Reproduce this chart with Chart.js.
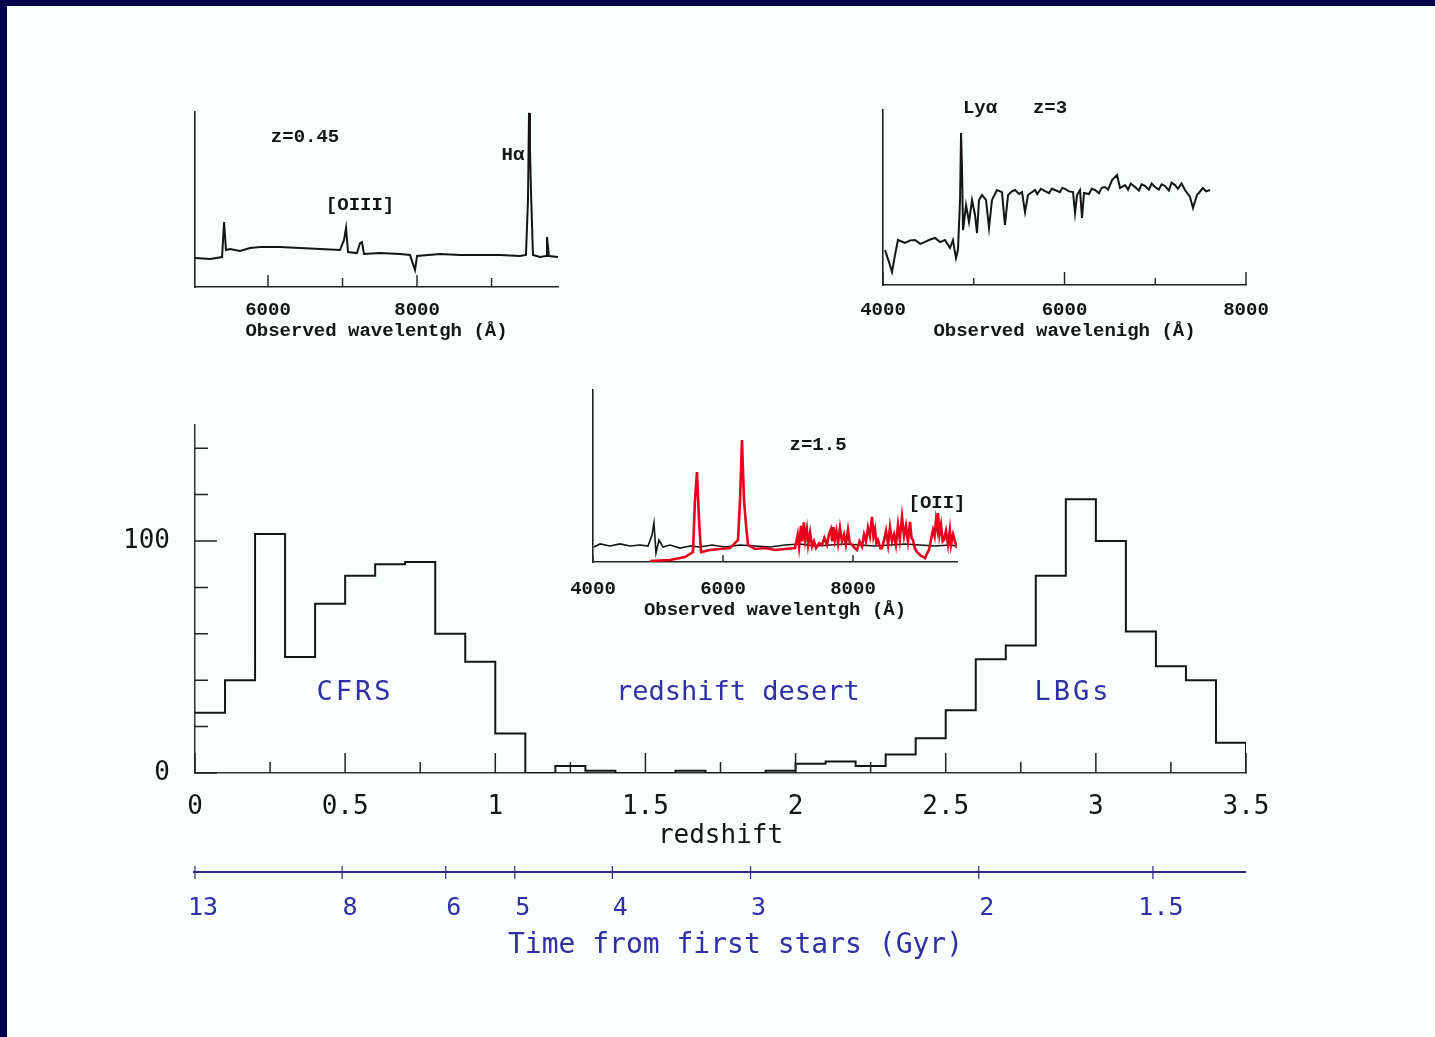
<!DOCTYPE html>
<html>
<head>
<meta charset="utf-8">
<script src="https://cdn.jsdelivr.net/npm/chart.js@4.4.1/dist/chart.umd.min.js"></script>
<style>
  html, body { margin: 0; padding: 0; background: #f8fffd; }
  #page { position: relative; width: 1435px; height: 1037px; overflow: hidden; background: #f8fffd; }
  #page canvas { position: absolute; }
  .frame { position: absolute; background: #00004e; z-index: 5; }
</style>
</head>
<body>
<div id="page">
  <canvas id="histogram" width="1435" height="1037" style="left:0;top:0"></canvas>
  <canvas id="specLow" width="450" height="262" style="left:150px;top:88px"></canvas>
  <canvas id="specHigh" width="440" height="265" style="left:840px;top:85px"></canvas>
  <canvas id="specMid" width="440" height="253" style="left:550px;top:372px"></canvas>
  <div class="frame" style="left:0;top:0;width:1435px;height:6px"></div>
  <div class="frame" style="left:0;top:0;width:7px;height:1037px"></div>
</div>
<script>
// ---- Redshift histogram (bins of width 0.1) ----
const binStart = [0.0, 0.1, 0.2, 0.3, 0.4, 0.5, 0.6, 0.7, 0.8, 0.9,
                  1.0, 1.1, 1.2, 1.3, 1.4, 1.5, 1.6, 1.7, 1.8, 1.9,
                  2.0, 2.1, 2.2, 2.3, 2.4, 2.5, 2.6, 2.7, 2.8, 2.9,
                  3.0, 3.1, 3.2, 3.3, 3.4];
const binEnd = 3.5;
const galaxyCounts = [26, 40, 103, 50, 73, 85, 90, 91, 60, 48,
                      17, 0, 3, 1, 0, 0, 1, 0, 0, 1,
                      4, 5, 3, 8, 15, 27, 49, 55, 85, 118,
                      100, 61, 46, 40, 13];

const redshiftTicks  = [0, 0.25, 0.5, 0.75, 1, 1.25, 1.5, 1.75, 2, 2.25, 2.5, 2.75, 3, 3.25, 3.5];
const redshiftLabels = ['0', '', '0.5', '', '1', '', '1.5', '', '2', '', '2.5', '', '3', '', '3.5'];
const countTicks  = [0, 20, 40, 60, 80, 100, 120, 140];
const countLabels = ['0', '', '', '', '', '100', '', ''];

// Age of the universe scale under the redshift axis
const cosmicAgeGyr = [13, 8, 6, 5, 4, 3, 2, 1.5];
const ageRedshift  = [0, 0.49, 0.835, 1.065, 1.39, 1.85, 2.61, 3.19];

// ---- Spectrum at z = 0.45 ----
const lowWave = [5020, 5222, 5383, 5410, 5436, 5490, 5624, 5758, 5893, 6161,
                 6429, 6698, 6966, 7020, 7047, 7074, 7194, 7235, 7261, 7288,
                 7503, 7771, 7906, 7946, 7973, 8000, 8308, 8577, 8845, 9113,
                 9382, 9462, 9489, 9503, 9516, 9529, 9556, 9650, 9731, 9744,
                 9771, 9892];
const lowFlux = [1.66, 1.60, 1.71, 3.71, 2.11, 2.17, 2.06, 2.23, 2.29, 2.29,
                 2.23, 2.17, 2.11, 2.69, 3.37, 2.00, 1.94, 2.51, 2.57, 1.89,
                 1.94, 1.89, 1.83, 1.31, 0.97, 1.77, 1.89, 1.83, 1.83, 1.83,
                 1.77, 1.83, 4.97, 9.95, 7.83, 5.54, 1.83, 1.71, 1.77, 2.86,
                 1.77, 1.71];
const lowTicks  = [6000, 7000, 8000, 9000];
const lowLabels = ['6000', '', '8000', ''];

// ---- Spectrum at z = 3 ----
const highWave = [4022, 4066, 4099, 4132, 4165, 4242, 4300, 4353, 4410, 4463,
                  4520, 4573, 4630, 4683, 4738, 4771, 4804, 4826, 4849, 4860,
                  4871, 4882, 4915, 4948, 4981, 5014, 5036, 5058, 5091, 5135,
                  5168, 5201, 5256, 5311, 5344, 5378, 5420, 5455, 5500, 5532,
                  5565, 5598, 5640, 5675, 5700, 5740, 5785, 5830, 5860, 5895,
                  5950, 5975, 6006, 6050, 6094, 6116, 6138, 6171, 6193, 6215,
                  6270, 6300, 6336, 6380, 6410, 6446, 6480, 6524, 6579, 6612,
                  6667, 6700, 6730, 6777, 6820, 6850, 6887, 6930, 6960, 6997,
                  7040, 7070, 7108, 7150, 7180, 7218, 7250, 7290, 7328, 7383,
                  7416, 7460, 7526, 7560, 7604];
const highFlux = [2.00, 1.31, 0.74, 1.71, 2.57, 2.40, 2.55, 2.57, 2.35, 2.46,
                  2.60, 2.69, 2.45, 2.57, 2.11, 2.57, 1.54, 2.00, 4.86, 8.69,
                  6.57, 3.14, 4.57, 3.60, 4.86, 4.00, 2.97, 4.86, 5.14, 4.86,
                  3.26, 4.86, 5.43, 5.31, 3.43, 5.14, 5.35, 5.43, 5.20, 5.31,
                  4.17, 5.14, 5.30, 5.43, 5.20, 5.50, 5.37, 5.25, 5.50, 5.43,
                  5.30, 5.55, 5.49, 5.35, 5.31, 4.11, 5.14, 5.43, 3.83, 5.26,
                  5.20, 5.50, 5.43, 5.25, 5.55, 5.60, 5.45, 6.00, 6.29, 5.54,
                  5.71, 5.45, 5.80, 5.60, 5.40, 5.75, 5.66, 5.45, 5.80, 5.60,
                  5.45, 5.75, 5.66, 5.40, 5.85, 5.71, 5.50, 5.80, 5.43, 5.03,
                  4.40, 5.14, 5.54, 5.35, 5.43];
const highTicks  = [4000, 5000, 6000, 7000, 8000];
const highLabels = ['4000', '', '6000', '', '8000'];

// ---- Spectrum at z = 1.5 (galaxy in black, sky residuals in red) ----
const midWave = [4015, 4108, 4262, 4415, 4569, 4723, 4846, 4908, 4938, 4969,
                 5015, 5077, 5185, 5338, 5492, 5646, 5831, 6031, 6262, 6492,
                 6723, 6954, 7185, 7415, 7646, 7877, 8108, 8338, 8569, 8800,
                 9031, 9262, 9492, 9600];
const midFlux = [0.87, 1.05, 0.93, 1.05, 0.93, 0.99, 0.93, 1.57, 2.27, 0.52,
                 1.28, 0.87, 0.99, 0.81, 0.93, 0.87, 0.99, 0.87, 0.99, 0.93,
                 0.87, 0.99, 1.05, 0.93, 0.99, 1.05, 0.99, 0.93, 0.99, 1.05,
                 0.99, 0.93, 0.99, 0.93];
const skyWave = [4877, 5185, 5415, 5538, 5569, 5600, 5631, 5662, 5800, 5954,
                 6108, 6231, 6262, 6292, 6323, 6354, 6385, 6492, 6646, 6800,
                 6954, 7108, 7150, 7170, 7200, 7220, 7245, 7265, 7290, 7310,
                 7340, 7370, 7400, 7431, 7480, 7523, 7560, 7600, 7630, 7660,
                 7680, 7700, 7720, 7745, 7770, 7800, 7830, 7862, 7890, 7923,
                 7950, 7985, 8030, 8062, 8100, 8138, 8170, 8200, 8230, 8260,
                 8292, 8315, 8338, 8360, 8385, 8420, 8446, 8480, 8508, 8540,
                 8569, 8600, 8631, 8660, 8692, 8720, 8754, 8785, 8815, 8845,
                 8877, 8900, 8923, 8950, 8985, 9020, 9046, 9080, 9108, 9140,
                 9169, 9200, 9231, 9255, 9277, 9295, 9308, 9330, 9354, 9380,
                 9400, 9430, 9462, 9490, 9508, 9540, 9569, 9600];
const skyFlux = [0.06, 0.12, 0.29, 0.58, 3.60, 5.23, 2.44, 0.58, 0.70, 0.76,
                 0.81, 1.28, 3.60, 7.09, 3.60, 2.15, 0.99, 0.76, 0.81, 0.70,
                 0.76, 0.81, 1.60, 0.90, 2.10, 1.20, 2.30, 1.30, 1.90, 1.00,
                 1.70, 0.90, 1.20, 0.81, 1.10, 0.99, 1.40, 1.00, 1.60, 1.90,
                 1.20, 2.03, 1.30, 1.80, 1.10, 1.98, 1.20, 1.60, 1.00, 1.86,
                 1.10, 0.99, 0.80, 0.70, 1.20, 0.90, 1.60, 1.20, 2.00, 1.50,
                 2.62, 1.50, 1.90, 1.10, 1.28, 0.80, 0.81, 1.30, 1.80, 1.00,
                 2.03, 1.20, 1.60, 1.00, 2.15, 1.30, 2.62, 1.50, 2.10, 1.20,
                 2.33, 1.40, 1.28, 0.80, 0.58, 0.45, 0.35, 0.30, 0.23, 0.50,
                 0.70, 1.30, 1.86, 1.50, 2.44, 2.00, 2.85, 1.60, 2.15, 1.20,
                 1.28, 1.80, 1.00, 1.86, 0.99, 1.60, 1.20, 0.81];
const midTicks  = [4000, 6000, 8000];
const midLabels = ['4000', '6000', '8000'];

// ---------------------------------------------------------------
const INK = '#151515';
const BLUE = '#2f2fa6';
const MONO = 'DejaVu Sans Mono';
const TYPE = 'Liberation Mono';

function toPoints(xs, ys) { return xs.map((x, i) => ({ x: x, y: ys[i] })); }

// Tick marks pointing into the plot; labelled ticks are drawn longer.
const inwardTicks = {
  id: 'inwardTicks',
  afterDatasetsDraw(chart, args, opts) {
    const { ctx, chartArea } = chart;
    const xs = chart.scales.x, ys = chart.scales.y;
    ctx.save();
    ctx.strokeStyle = opts.color;
    ctx.lineWidth = opts.width;
    ctx.beginPath();
    if (opts.x) {
      xs.ticks.forEach(t => {
        const len = t.label ? opts.x.major : opts.x.minor;
        if (!len) return;
        const px = xs.getPixelForValue(t.value);
        ctx.moveTo(px, chartArea.bottom);
        ctx.lineTo(px, chartArea.bottom - len);
      });
    }
    if (opts.y) {
      ys.ticks.forEach(t => {
        const len = t.label ? opts.y.major : opts.y.minor;
        if (!len) return;
        const py = ys.getPixelForValue(t.value);
        ctx.moveTo(chartArea.left, py);
        ctx.lineTo(chartArea.left + len, py);
      });
    }
    ctx.stroke();
    ctx.restore();
  }
};

// Text placed at data coordinates.
const dataText = {
  id: 'dataText',
  afterDraw(chart, args, opts) {
    const { ctx } = chart;
    const xs = chart.scales.x, ys = chart.scales.y;
    ctx.save();
    ctx.textAlign = 'center';
    ctx.textBaseline = 'middle';
    (opts.items || []).forEach(it => {
      ctx.font = it.font || opts.font;
      ctx.fillStyle = it.color || opts.color;
      ctx.letterSpacing = it.spacing || '0px';
      ctx.fillText(it.text, xs.getPixelForValue(it.x), ys.getPixelForValue(it.y));
    });
    ctx.restore();
  }
};

// Cosmic-time axis drawn under the redshift axis, sharing its x scale.
const ageAxis = {
  id: 'ageAxis',
  afterDraw(chart, args, opts) {
    const { ctx } = chart;
    const xs = chart.scales.x;
    const y = opts.lineY;
    ctx.save();
    ctx.strokeStyle = opts.lineColor;
    ctx.lineWidth = 2.2;
    ctx.beginPath();
    ctx.moveTo(xs.getPixelForValue(xs.min) - 2, y);
    ctx.lineTo(xs.getPixelForValue(xs.max), y);
    ctx.stroke();
    ctx.lineWidth = 1.2;
    ctx.beginPath();
    ageRedshift.forEach(z => {
      const px = xs.getPixelForValue(z);
      ctx.moveTo(px, y - 6);
      ctx.lineTo(px, y + 7);
    });
    ctx.stroke();
    ctx.fillStyle = opts.textColor;
    ctx.textAlign = 'center';
    ctx.textBaseline = 'middle';
    ctx.font = opts.font;
    cosmicAgeGyr.forEach((a, i) => {
      ctx.fillText(String(a), xs.getPixelForValue(ageRedshift[i]) + opts.labelShift, opts.labelY);
    });
    ctx.font = opts.titleFont;
    ctx.fillText(opts.title, xs.getPixelForValue(opts.titleAt), opts.titleY);
    ctx.restore();
  }
};

// ---- Main histogram ----
const histPoints = toPoints(binStart, galaxyCounts).concat([{ x: binEnd, y: 0 }]);
const axisFont = { family: MONO, size: 26 };

new Chart(document.getElementById('histogram'), {
  type: 'line',
  data: {
    datasets: [{
      data: histPoints,
      stepped: true,
      borderColor: INK,
      borderWidth: 2,
      pointRadius: 0,
      fill: false
    }]
  },
  options: {
    responsive: false,
    animation: false,
    events: [],
    layout: { padding: { left: 0, right: 189, top: 425, bottom: 0 } },
    plugins: {
      legend: { display: false },
      tooltip: { enabled: false },
      inwardTicks: { color: '#222', width: 1.5, x: { major: 20, minor: 11 }, y: { major: 22, minor: 13 } },
      dataText: {
        font: '27px "' + MONO + '"',
        color: BLUE,
        items: [
          { text: 'CFRS', x: 0.533, y: 34.5, spacing: '3px' },
          { text: 'redshift desert', x: 1.808, y: 34.5 },
          { text: 'LBGs', x: 2.924, y: 34.5, spacing: '3px' }
        ]
      },
      ageAxis: {
        lineY: 872,
        lineColor: '#2a2a8c',
        textColor: BLUE,
        font: '25px "' + MONO + '"',
        labelShift: 8,
        labelY: 908,
        title: 'Time from first stars (Gyr)',
        titleFont: '28px "' + MONO + '"',
        titleAt: 1.80,
        titleY: 946
      }
    },
    scales: {
      x: {
        type: 'linear',
        min: 0,
        max: 3.5,
        afterBuildTicks: s => { s.ticks = redshiftTicks.map(v => ({ value: v })); },
        afterFit: s => { s.height = 264; },
        ticks: {
          autoSkip: false, maxRotation: 0, padding: 11, color: INK, font: axisFont,
          callback: (v, i) => redshiftLabels[i]
        },
        grid: { display: false },
        border: { display: true, color: '#333', width: 1.5 },
        title: {
          display: true, text: 'redshift', color: INK, font: axisFont,
          padding: { top: 0, bottom: 185 }
        }
      },
      y: {
        type: 'linear',
        min: 0,
        max: 150,
        afterBuildTicks: s => { s.ticks = countTicks.map(v => ({ value: v })); },
        afterFit: s => { s.width = 195; },
        ticks: {
          autoSkip: false, padding: 17, color: INK, font: axisFont,
          callback: (v, i) => countLabels[i]
        },
        grid: { display: false },
        border: { display: true, color: '#333', width: 1.5 }
      }
    }
  },
  plugins: [inwardTicks, dataText, ageAxis]
});

// ---- Spectrum insets ----
const insetFont = { family: TYPE, size: 19, weight: 'bold' };
const insetLine = insetFont.size * 1.2;

function spectrum(cfg) {
  const canvas = document.getElementById(cfg.id);
  const box = { left: parseFloat(canvas.style.left), top: parseFloat(canvas.style.top), w: canvas.width, h: canvas.height };
  const a = cfg.area;
  const xHeight = box.top + box.h - a.bottom;
  return new Chart(canvas, {
    type: 'line',
    data: { datasets: cfg.datasets },
    options: {
      responsive: false,
      animation: false,
      events: [],
      layout: { padding: { left: 0, right: box.left + box.w - a.right, top: a.top - box.top, bottom: 0 } },
      plugins: {
        legend: { display: false },
        tooltip: { enabled: false },
        inwardTicks: { color: '#222', width: 1.4, x: cfg.tickLen },
        dataText: { font: 'bold 19px "' + TYPE + '"', color: INK, items: cfg.notes }
      },
      scales: {
        x: {
          type: 'linear',
          min: cfg.range[0],
          max: cfg.range[1],
          afterBuildTicks: s => { s.ticks = cfg.ticks.map(v => ({ value: v })); },
          afterFit: s => { s.height = xHeight; },
          ticks: {
            autoSkip: false, maxRotation: 0, color: INK, font: insetFont,
            padding: cfg.labelY - a.bottom - insetLine / 2,
            callback: (v, i) => cfg.labels[i]
          },
          grid: { display: false },
          border: { display: true, color: '#222', width: 1.6 },
          title: {
            display: true, text: cfg.title, color: INK, font: insetFont,
            padding: { top: 0, bottom: box.top + box.h - cfg.titleY - insetLine / 2 }
          }
        },
        y: {
          type: 'linear',
          min: 0,
          max: 10,
          afterFit: s => { s.width = a.left - box.left; },
          ticks: { display: false },
          grid: { display: false },
          border: { display: true, color: '#222', width: 1.6 }
        }
      }
    },
    plugins: [inwardTicks, dataText]
  });
}

spectrum({
  id: 'specLow',
  area: { left: 195, right: 558, top: 112, bottom: 287 },
  range: [5020, 9892],
  ticks: lowTicks, labels: lowLabels, tickLen: { major: 12, minor: 9 },
  labelY: 302, titleY: 331,
  title: 'Observed wavelentgh (\u00c5)',
  datasets: [{ data: toPoints(lowWave, lowFlux), borderColor: INK, borderWidth: 2, pointRadius: 0, tension: 0 }],
  notes: [
    { text: 'z=0.45', x: 6497, y: 8.57 },
    { text: '[OIII]', x: 7235, y: 4.69 },
    { text: 'H\u03b1', x: 9288, y: 7.54 }
  ]
});

spectrum({
  id: 'specHigh',
  area: { left: 883, right: 1246, top: 110, bottom: 285 },
  range: [4000, 8000],
  ticks: highTicks, labels: highLabels, tickLen: { major: 13, minor: 7 },
  labelY: 302, titleY: 331,
  title: 'Observed wavelenigh (\u00c5)',
  datasets: [{ data: toPoints(highWave, highFlux), borderColor: INK, borderWidth: 2, pointRadius: 0, tension: 0 }],
  notes: [
    { text: 'Ly\u03b1', x: 5069, y: 10.11 },
    { text: 'z=3', x: 5840, y: 10.11 }
  ]
});

spectrum({
  id: 'specMid',
  area: { left: 593, right: 957, top: 390, bottom: 562 },
  range: [4000, 9600],
  ticks: midTicks, labels: midLabels, tickLen: { major: 7, minor: 0 },
  labelY: 581, titleY: 610,
  title: 'Observed wavelentgh (\u00c5)',
  datasets: [
    { data: toPoints(skyWave, skyFlux), borderColor: '#e8001c', borderWidth: 2.6, pointRadius: 0, tension: 0 },
    { data: toPoints(midWave, midFlux), borderColor: INK, borderWidth: 1.6, pointRadius: 0, tension: 0 }
  ],
  notes: [
    { text: 'z=1.5', x: 7462, y: 6.8 },
    { text: '[OII]', x: 9292, y: 3.43 }
  ]
});
</script>
</body>
</html>
